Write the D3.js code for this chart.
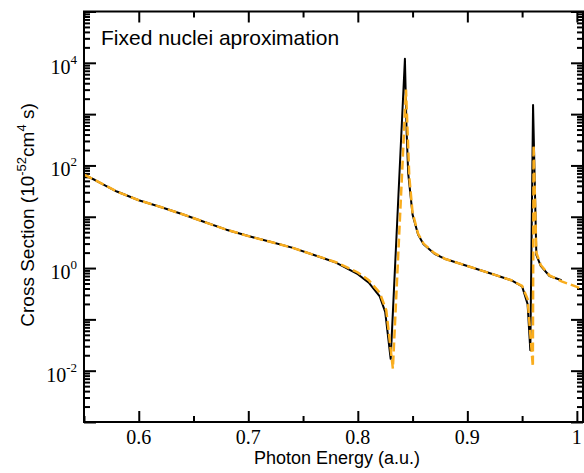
<!DOCTYPE html>
<html>
<head>
<meta charset="utf-8">
<script src="https://cdn.jsdelivr.net/npm/d3@7"></script>
<style>
  body { margin: 0; background: #fff; }
  svg { display: block; }
  .serif { font-family: "Liberation Serif", "Times New Roman", serif; }
  .sans { font-family: "Liberation Sans", Arial, sans-serif; }
</style>
</head>
<body>
<svg id="chart"></svg>
<script>
// photon energy (a.u.) and cross section, full calculation (black)
const blackEnergy = [0.55, 0.56, 0.58, 0.60, 0.62, 0.64, 0.66, 0.68, 0.70, 0.72, 0.74, 0.76, 0.78, 0.80, 0.81, 0.82, 0.825, 0.83,
  0.843, 0.8445, 0.846, 0.85, 0.855, 0.86, 0.87, 0.88, 0.90, 0.92, 0.94, 0.95, 0.955, 0.9575,
  0.96, 0.963, 0.967, 0.975, 0.986];
const blackSigma = [66, 52, 31, 21, 15.5, 11.2, 7.9, 5.6, 4.2, 3.25, 2.5, 1.8, 1.28, 0.76, 0.52, 0.28, 0.14, 0.017,
  12000, 500, 70, 11, 4.5, 2.9, 1.9, 1.5, 1.1, 0.8, 0.58, 0.44, 0.2, 0.025,
  1500, 1.8, 1.1, 0.7, 0.58];

// fixed nuclei approximation (orange dashed)
const orangeEnergy = [0.55, 0.56, 0.58, 0.60, 0.62, 0.64, 0.66, 0.68, 0.70, 0.72, 0.74, 0.76, 0.78, 0.80, 0.81, 0.82, 0.826, 0.832,
  0.844, 0.847, 0.85, 0.855, 0.86, 0.87, 0.88, 0.90, 0.92, 0.94, 0.95, 0.955, 0.9598,
  0.9605, 0.963, 0.967, 0.975, 0.986, 1.0, 1.0066];
const orangeSigma = [66, 52, 31, 21, 15.5, 11.2, 7.9, 5.6, 4.2, 3.25, 2.5, 1.8, 1.3, 0.82, 0.58, 0.33, 0.15, 0.011,
  3000, 60, 12, 4.7, 3.0, 1.95, 1.5, 1.1, 0.8, 0.58, 0.45, 0.25, 0.012,
  250, 2.0, 1.15, 0.72, 0.55, 0.43, 0.37];

const xTicks = [0.6, 0.7, 0.8, 0.9, 1];
const xLabels = ["0.6", "0.7", "0.8", "0.9", "1"];
const xMinorTicks = [0.55, 0.65, 0.75, 0.85, 0.95];
const yTicks = [1e-3, 1e-2, 1e-1, 1e0, 1e1, 1e2, 1e3, 1e4, 1e5];
const yLabelTicks = [1e-2, 1e0, 1e2, 1e4];
const yLabelExp = ["-2", "0", "2", "4"];

const width = 584, height = 473;
const margin = {top: 11.5, right: 1, bottom: 51, left: 84};
const innerW = width - margin.left - margin.right;
const innerH = height - margin.top - margin.bottom;

const svg = d3.select("#chart").attr("width", width).attr("height", height);
const chart = svg.append("g").attr("transform", `translate(${margin.left},${margin.top})`);

const x = d3.scaleLinear().domain([0.55, 1.0056]).range([0, innerW]);
const y = d3.scaleLog().domain([1e-3, 1e5]).range([innerH, 0]);

// minor log ticks (2..9 in each decade)
const yMinor = [];
yTicks.slice(0, -1).forEach(d => { for (let k = 2; k <= 9; k++) yMinor.push(d * k); });

function tickGroup(axis, transform) {
  const g = chart.append("g").attr("transform", transform).call(axis);
  g.select(".domain").remove();
  g.selectAll(".tick line").attr("stroke", "#000").attr("stroke-width", 2);
  g.selectAll(".tick text").remove();
  return g;
}

// bottom / top ticks
tickGroup(d3.axisBottom(x).tickValues(xTicks).tickSize(-11), `translate(0,${innerH})`);
tickGroup(d3.axisBottom(x).tickValues(xMinorTicks).tickSize(-6), `translate(0,${innerH})`);
tickGroup(d3.axisTop(x).tickValues(xTicks).tickSize(-11), "translate(0,0)");
tickGroup(d3.axisTop(x).tickValues(xMinorTicks).tickSize(-6), "translate(0,0)");
// left / right ticks
tickGroup(d3.axisLeft(y).tickValues(yTicks).tickSize(-12), "translate(0,0)");
tickGroup(d3.axisLeft(y).tickValues(yMinor).tickSize(-6), "translate(0,0)");
tickGroup(d3.axisRight(y).tickValues(yTicks).tickSize(-12), `translate(${innerW},0)`);
tickGroup(d3.axisRight(y).tickValues(yMinor).tickSize(-6), `translate(${innerW},0)`);

// curves
const line = d3.line().x(d => x(d[0])).y(d => y(d[1]));
const blackData = d3.zip(blackEnergy, blackSigma);
const orangeData = d3.zip(orangeEnergy, orangeSigma);

svg.append("clipPath").attr("id", "plotclip")
  .append("rect").attr("width", innerW).attr("height", innerH);

chart.append("path")
  .datum(blackData)
  .attr("d", line)
  .attr("fill", "none")
  .attr("stroke", "#000")
  .attr("stroke-width", 2)
  .attr("stroke-linejoin", "round")
  .attr("clip-path", "url(#plotclip)");

chart.append("path")
  .datum(orangeData)
  .attr("d", line)
  .attr("fill", "none")
  .attr("stroke", "#f9ad1e")
  .attr("stroke-width", 2.5)
  .attr("stroke-dasharray", "9,4")
  .attr("clip-path", "url(#plotclip)");

// frame
chart.append("rect")
  .attr("width", innerW).attr("height", innerH)
  .attr("fill", "none").attr("stroke", "#000").attr("stroke-width", 2);

// x tick labels
chart.selectAll(".xlabel")
  .data(xTicks)
  .join("text")
  .attr("class", "xlabel serif")
  .attr("x", d => x(d))
  .attr("y", innerH + 22)
  .attr("text-anchor", "middle")
  .attr("font-size", 20)
  .text((d, i) => xLabels[i]);

// y tick labels with superscript
const yl = chart.selectAll(".ylabel")
  .data(yLabelTicks)
  .join("text")
  .attr("class", "ylabel serif")
  .attr("x", -7)
  .attr("y", d => y(d) + 11)
  .attr("text-anchor", "end")
  .attr("font-size", 20);
yl.append("tspan").text("10");
yl.append("tspan").attr("dy", -10).attr("font-size", 13).text((d, i) => yLabelExp[i]);

// title inside the plot
chart.append("text")
  .attr("class", "sans")
  .attr("x", 101 - margin.left)
  .attr("y", 45 - margin.top)
  .attr("font-size", 21)
  .text("Fixed nuclei aproximation");

// axis titles
svg.append("text")
  .attr("class", "sans")
  .attr("x", 337)
  .attr("y", 464)
  .attr("text-anchor", "middle")
  .attr("font-size", 18)
  .text("Photon Energy (a.u.)");

const yt = svg.append("text")
  .attr("class", "sans")
  .attr("transform", "translate(34,215) rotate(-90)")
  .attr("text-anchor", "middle")
  .attr("font-size", 19);
yt.append("tspan").text("Cross Section (10");
yt.append("tspan").attr("dy", -8).attr("font-size", 13).text("-52");
yt.append("tspan").attr("dy", 8).text("cm");
yt.append("tspan").attr("dy", -8).attr("font-size", 13).text("4");
yt.append("tspan").attr("dy", 8).text(" s)");
</script>
</body>
</html>
